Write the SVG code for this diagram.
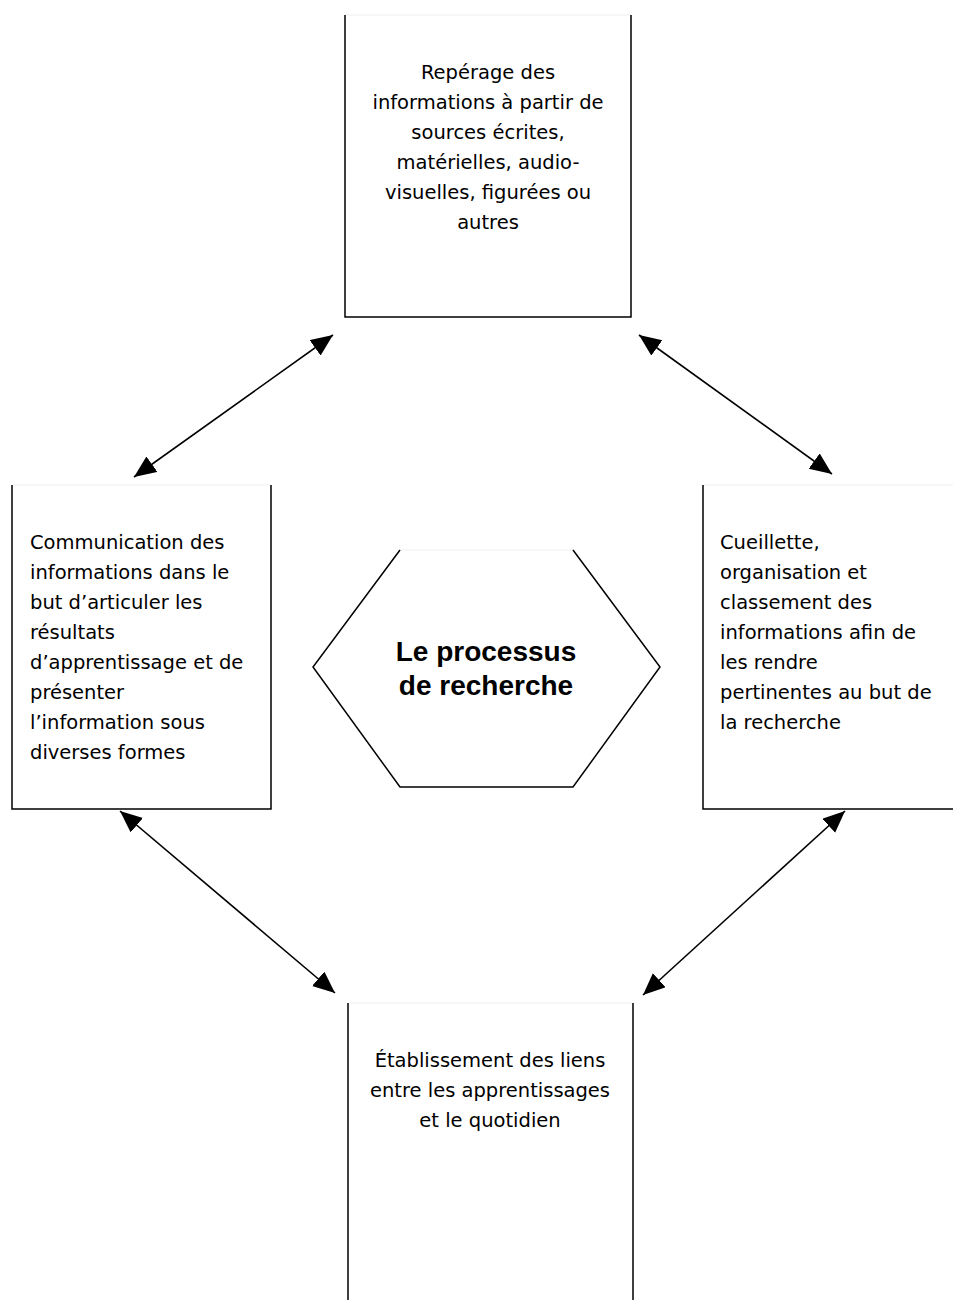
<svg xmlns="http://www.w3.org/2000/svg" width="953" height="1300" viewBox="0 0 953 1300">
<style>
.box{stroke:#000;stroke-width:1.5;fill:none}
.faint{stroke:#eeeeee;stroke-width:1}
.t{font-family:"DejaVu Sans",sans-serif;font-size:19.5px;fill:#000}
.c{text-anchor:middle}
.h{font-family:"Liberation Sans",Arial,sans-serif;font-size:28px;font-weight:bold;text-anchor:middle;fill:#000}
.con{stroke:#000;stroke-width:1.6;fill:none;marker-start:url(#ah);marker-end:url(#ah)}
</style>
<defs>
<marker id="ah" markerUnits="userSpaceOnUse" markerWidth="24" markerHeight="20" refX="22" refY="9.5" orient="auto-start-reverse">
<path d="M0,0 L22,9.5 L0,19 Z" fill="#000"/>
</marker>
</defs>
<rect width="953" height="1300" fill="#fff"/>
<g id="top">
<line class="faint" x1="345" y1="15" x2="631" y2="15"/>
<path class="box" d="M345,15 V317 H631 V15"/>
<text class="t c" x="488" y="79">Repérage des</text>
<text class="t c" x="488" y="109">informations à partir de</text>
<text class="t c" x="488" y="139">sources écrites,</text>
<text class="t c" x="488" y="169">matérielles, audio-</text>
<text class="t c" x="488" y="199">visuelles, figurées ou</text>
<text class="t c" x="488" y="229">autres</text>
</g>
<g id="left">
<line class="faint" x1="12" y1="485" x2="271" y2="485"/>
<path class="box" d="M12,485 V809 H271 V485"/>
<text class="t" x="30" y="549">Communication des</text>
<text class="t" x="30" y="579">informations dans le</text>
<text class="t" x="30" y="609">but d’articuler les</text>
<text class="t" x="30" y="639">résultats</text>
<text class="t" x="30" y="669">d’apprentissage et de</text>
<text class="t" x="30" y="699">présenter</text>
<text class="t" x="30" y="729">l’information sous</text>
<text class="t" x="30" y="759">diverses formes</text>
</g>
<g id="right">
<line class="faint" x1="703" y1="485" x2="953" y2="485"/>
<path class="box" d="M703,485 V809 H955"/>
<text class="t" x="720" y="549">Cueillette,</text>
<text class="t" x="720" y="579">organisation et</text>
<text class="t" x="720" y="609">classement des</text>
<text class="t" x="720" y="639">informations afin de</text>
<text class="t" x="720" y="669">les rendre</text>
<text class="t" x="720" y="699">pertinentes au but de</text>
<text class="t" x="720" y="729">la recherche</text>
</g>
<g id="bottom">
<line class="faint" x1="348" y1="1003" x2="633" y2="1003"/>
<path class="box" d="M348,1003 V1302 M633,1003 V1302"/>
<text class="t c" x="490" y="1067">Établissement des liens</text>
<text class="t c" x="490" y="1097">entre les apprentissages</text>
<text class="t c" x="490" y="1127">et le quotidien</text>
</g>
<g id="center">
<line class="faint" x1="400" y1="550" x2="573" y2="550"/>
<path class="box" d="M400,550 L313,667 L400,787 H573 L660,667 L573,550"/>
<text class="h" x="486" y="661">Le processus</text>
<text class="h" x="486" y="695">de recherche</text>
</g>
<g id="connectors">
<line class="con" x1="333" y1="335" x2="134" y2="477"/>
<line class="con" x1="639" y1="335" x2="832" y2="474"/>
<line class="con" x1="120" y1="811" x2="335" y2="993"/>
<line class="con" x1="845" y1="811" x2="643" y2="995"/>
</g>
</svg>
